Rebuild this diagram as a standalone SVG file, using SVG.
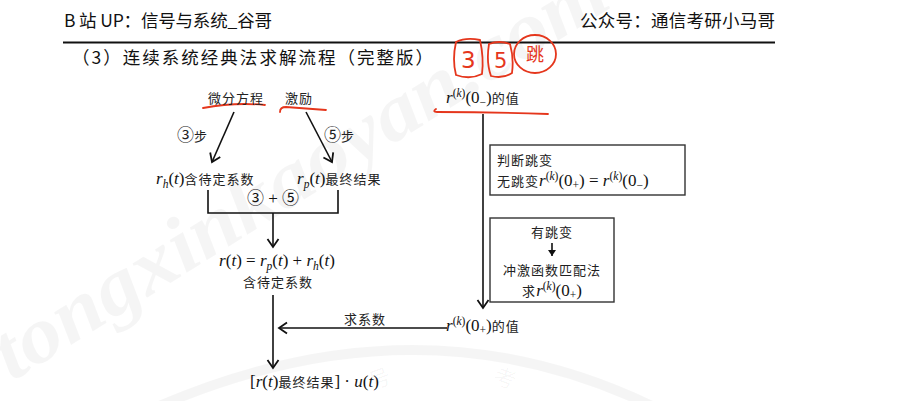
<svg xmlns="http://www.w3.org/2000/svg" width="899" height="401" viewBox="0 0 899 401">
<defs>
<style>
.cn{font-family:"Noto Sans CJK SC","Noto Sans",sans-serif;font-size:13px;fill:#222;letter-spacing:1px}
.hd{font-family:"Noto Sans CJK SC","Noto Sans",sans-serif;font-size:17.5px;fill:#111}
.m{font-family:"Liberation Serif","DejaVu Serif",serif;font-size:17px;fill:#111}
.i{font-style:italic}
.sm{font-size:11.5px}
.ci{font-family:"Noto Sans CJK SC","DejaVu Sans",sans-serif;font-size:17px;letter-spacing:0}
.ln{stroke:#111;stroke-width:1.6;fill:none}
.red{stroke:#e5361c;stroke-width:1.8;fill:none;stroke-linecap:round}
.redt{fill:#e5361c;font-family:"DejaVu Sans","Noto Sans CJK SC",sans-serif}
.box{fill:#fff;stroke:#333;stroke-width:1.4}
.wm{font-family:"Liberation Serif",serif;font-style:italic;font-weight:bold;fill:#000;fill-opacity:0.04}
</style>
<marker id="ah" markerUnits="userSpaceOnUse" viewBox="-10 -7 12 14" refX="0" refY="0" markerWidth="12" markerHeight="14" orient="auto">
<path d="M-8,-5.5 L0,0 L-8,5.5" fill="none" stroke="#111" stroke-width="1.8"/>
</marker>
<marker id="fh" markerUnits="userSpaceOnUse" viewBox="-7 -5 8 10" refX="0" refY="0" markerWidth="8" markerHeight="10" orient="auto">
<path d="M-6,-4 L0,0 L-6,4 Z" fill="#111"/>
</marker>
</defs>
<rect width="899" height="401" fill="#fff"/>

<g id="watermark">
<text class="wm" x="0" y="0" font-size="80" transform="translate(12,382) rotate(-32)" textLength="710" lengthAdjust="spacingAndGlyphs">tongxinkaoyan.com</text>
<path d="M150,410 Q420,290 660,410" fill="none" stroke="#000" stroke-opacity="0.04" stroke-width="10"/>
<text x="372" y="390" font-size="22" font-family="Noto Sans CJK SC,sans-serif" fill="#000" fill-opacity="0.04" transform="rotate(-20 372 390)">号</text>
<text x="492" y="382" font-size="22" font-family="Noto Sans CJK SC,sans-serif" fill="#000" fill-opacity="0.04" transform="rotate(20 492 382)">考</text>
</g>

<g id="header">
<text class="hd" x="64" y="27" textLength="208" lengthAdjust="spacing">B 站 UP：信号与系统_谷哥</text>
<text class="hd" x="580" y="27" textLength="195" lengthAdjust="spacing">公众号：通信考研小马哥</text>
<line x1="63" y1="42.5" x2="775" y2="42.5" stroke="#111" stroke-width="2"/>
<text class="hd" x="72" y="64" textLength="361" lengthAdjust="spacing">（3）连续系统经典法求解流程（完整版）</text>
</g>

<g id="annotations">
<path class="red" d="M456,42 Q452,60 456,75 Q470,80 482,74 Q484,58 480,40 Q466,37 456,42"/>
<text class="redt" x="461" y="68" font-size="23">3</text>
<path class="red" d="M489,44 Q486,62 491,76 Q503,79 512,73 Q514,58 510,44 Q499,40 489,44"/>
<text class="redt" x="494" y="68" font-size="21">5</text>
<ellipse class="red" cx="535" cy="54" rx="21" ry="19"/>
<text class="redt" x="526" y="61" font-size="18">跳</text>
<path class="red" d="M203,108 Q235,102 265,105"/>
<path class="red" d="M280,112 Q280,107 286,107 L326,110"/>
<path class="red" d="M436,109 Q432,112 437,112 Q495,112 548,114"/>
</g>

<g id="connectors">
<line class="ln" x1="234" y1="112" x2="212" y2="162" marker-end="url(#ah)"/>
<line class="ln" x1="306" y1="112" x2="332" y2="162" marker-end="url(#ah)"/>
<path class="ln" d="M208,190 V213 H338 V190"/>
<line class="ln" x1="273" y1="213" x2="273" y2="247" marker-end="url(#ah)"/>
<line class="ln" x1="273" y1="295" x2="273" y2="368" marker-end="url(#ah)"/>
<line class="ln" x1="447" y1="328" x2="279" y2="328" marker-end="url(#ah)"/>
<line class="ln" x1="483" y1="114" x2="483" y2="308" marker-end="url(#ah)"/>
</g>

<g id="n-weifen"><text class="cn" x="208" y="103">微分方程</text></g>
<g id="n-jili"><text class="cn" x="285" y="103">激励</text></g>
<g id="l-step3"><text class="cn" x="177" y="141"><tspan class="ci">③</tspan>步</text></g>
<g id="l-step5"><text class="cn" x="324" y="141"><tspan class="ci">⑤</tspan>步</text></g>

<g id="n-rh">
<text class="m" x="156" y="184"><tspan class="i">r</tspan><tspan class="i sm" dy="4">h</tspan><tspan dy="-4">(</tspan><tspan class="i">t</tspan>)<tspan class="cn">含待定系数</tspan></text>
</g>
<g id="n-rp">
<text class="m" x="297" y="184"><tspan class="i">r</tspan><tspan class="i sm" dy="4">p</tspan><tspan dy="-4">(</tspan><tspan class="i">t</tspan>)<tspan class="cn">最终结果</tspan></text>
</g>
<g id="l-sum"><text class="m" x="273" y="204" text-anchor="middle" font-size="16"><tspan class="ci" font-size="16">③</tspan> + <tspan class="ci" font-size="16">⑤</tspan></text></g>

<g id="n-rt">
<text class="m" x="277" y="266" text-anchor="middle"><tspan class="i">r</tspan>(<tspan class="i">t</tspan>) = <tspan class="i">r</tspan><tspan class="i sm" dy="4">p</tspan><tspan dy="-4">(</tspan><tspan class="i">t</tspan>) + <tspan class="i">r</tspan><tspan class="i sm" dy="4">h</tspan><tspan dy="-4">(</tspan><tspan class="i">t</tspan>)</text>
<text class="cn" x="278" y="287" text-anchor="middle">含待定系数</text>
</g>

<g id="n-final">
<text class="m" x="250" y="387">[<tspan class="i">r</tspan>(<tspan class="i">t</tspan>)<tspan class="cn">最终结果</tspan>] · <tspan class="i">u</tspan>(<tspan class="i">t</tspan>)</text>
</g>

<g id="l-qiuxishu"><text class="cn" x="365" y="324" text-anchor="middle">求系数</text></g>

<g id="n-r0minus">
<text class="m" x="446" y="103"><tspan class="i">r</tspan><tspan class="sm" dy="-6">(<tspan class="i">k</tspan>)</tspan><tspan dy="6">(0</tspan><tspan class="sm" dy="3">−</tspan><tspan dy="-3">)</tspan><tspan class="cn">的值</tspan></text>
</g>

<g id="n-r0plus">
<text class="m" x="446" y="331"><tspan class="i">r</tspan><tspan class="sm" dy="-6">(<tspan class="i">k</tspan>)</tspan><tspan dy="6">(0</tspan><tspan class="sm" dy="3">+</tspan><tspan dy="-3">)</tspan><tspan class="cn">的值</tspan></text>
</g>

<g id="n-judge">
<rect class="box" x="490" y="145" width="195" height="50"/>
<text class="cn" x="497" y="165">判断跳变</text>
<text class="m" x="497" y="186"><tspan class="cn">无跳变</tspan><tspan class="i">r</tspan><tspan class="sm" dy="-6">(<tspan class="i">k</tspan>)</tspan><tspan dy="6">(0</tspan><tspan class="sm" dy="3">+</tspan><tspan dy="-3">) = </tspan><tspan class="i">r</tspan><tspan class="sm" dy="-6">(<tspan class="i">k</tspan>)</tspan><tspan dy="6">(0</tspan><tspan class="sm" dy="3">−</tspan><tspan dy="-3">)</tspan></text>
</g>

<g id="n-jump">
<rect class="box" x="490" y="218" width="124" height="84"/>
<text class="cn" x="552" y="237" text-anchor="middle">有跳变</text>
<line x1="552" y1="243" x2="552" y2="256" stroke="#111" stroke-width="1.6" marker-end="url(#fh)"/>
<text class="cn" x="552" y="275" text-anchor="middle">冲激函数匹配法</text>
<text class="m" x="552" y="296" text-anchor="middle"><tspan class="cn">求</tspan><tspan class="i">r</tspan><tspan class="sm" dy="-6">(<tspan class="i">k</tspan>)</tspan><tspan dy="6">(0</tspan><tspan class="sm" dy="3">+</tspan><tspan dy="-3">)</tspan></text>
</g>
</svg>
